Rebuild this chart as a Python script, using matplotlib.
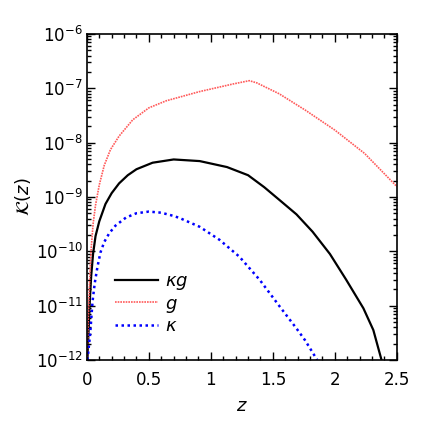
import numpy as np
import matplotlib
matplotlib.use('Agg')
import matplotlib.pyplot as plt
from matplotlib.ticker import MultipleLocator, LogLocator, NullFormatter

# values, log10 K(z)
z_g = [0.003, 0.008, 0.015, 0.025, 0.035, 0.05, 0.07, 0.1, 0.14, 0.19, 0.26, 0.37,
       0.5, 0.64, 0.91, 1.18, 1.31, 1.37, 1.55, 1.76, 2.0, 2.24, 2.5]
log_g = [-12.0, -11.5, -11.0, -10.4, -9.95, -9.5, -9.15, -8.78, -8.42, -8.13, -7.88, -7.58,
         -7.36, -7.23, -7.06, -6.92, -6.86, -6.90, -7.10, -7.40, -7.77, -8.20, -8.81]

z_kg = [0.004, 0.013, 0.024, 0.035, 0.05, 0.07, 0.1, 0.15, 0.2, 0.26, 0.33, 0.4, 0.53,
        0.7, 0.91, 1.13, 1.30, 1.43, 1.55, 1.69, 1.82, 1.96, 2.09, 2.23, 2.31, 2.376]
log_kg = [-12.0, -11.5, -10.9, -10.45, -10.05, -9.72, -9.45, -9.13, -8.93, -8.75, -8.60, -8.49, -8.37,
          -8.31, -8.34, -8.45, -8.60, -8.82, -9.05, -9.32, -9.64, -10.05, -10.52, -11.05, -11.45, -12.0]

z_k = [0.005, 0.013, 0.027, 0.037, 0.046, 0.064, 0.086, 0.11, 0.14, 0.18, 0.23, 0.315,
       0.4, 0.5, 0.6, 0.7, 0.75, 0.91, 1.07, 1.23, 1.395, 1.556, 1.69, 1.76, 1.857]
log_k = [-12.0, -11.82, -11.51, -11.2, -10.92, -10.58, -10.28, -10.02, -9.83, -9.67, -9.53, -9.38,
         -9.30, -9.27, -9.29, -9.35, -9.39, -9.55, -9.79, -10.10, -10.53, -11.02, -11.42, -11.64, -12.0]

plt.rcParams['font.size'] = 12
plt.rcParams['mathtext.fontset'] = 'dejavusans'

fig = plt.figure(figsize=(4.3, 4.3), dpi=100)
ax = fig.add_axes([0.202, 0.163, 0.721, 0.758])

ax.plot(z_kg, 10**np.array(log_kg), color='black', lw=1.6, label=r'$\kappa g$')
ax.plot(z_g, 10**np.array(log_g), color='#ff5a5a', lw=1.2, ls=(0, (1, 0.6)), label=r'$g$')
ax.plot(z_k, 10**np.array(log_k), color='blue', lw=1.8, ls=(0, (1, 1.4)), label=r'$\kappa$')

ax.set_yscale('log')
ax.set_xlim(0, 2.5)
ax.set_ylim(1e-12, 1e-6)
ax.xaxis.set_major_locator(MultipleLocator(0.5))
ax.xaxis.set_minor_locator(MultipleLocator(0.1))
ax.yaxis.set_major_locator(LogLocator(base=10, numticks=20))
ax.yaxis.set_minor_locator(LogLocator(base=10, subs=np.arange(2, 10), numticks=20))
ax.yaxis.set_minor_formatter(NullFormatter())
ax.set_xticks([0, 0.5, 1, 1.5, 2, 2.5])
ax.set_xticklabels(['0', '0.5', '1', '1.5', '2', '2.5'])

ax.tick_params(which='both', direction='in', top=True, right=True, width=1)
ax.tick_params(which='major', length=6, pad=3)
ax.tick_params(which='minor', length=3)
ax.tick_params(axis='x', which='major', pad=8)
for s in ax.spines.values():
    s.set_linewidth(1.2)

ax.set_xlabel(r'$z$', fontsize=13, labelpad=6)
ax.set_ylabel(r'$\mathcal{K}(z)$', fontsize=13, labelpad=2)

ax.legend(loc='upper left', bbox_to_anchor=(0.09, 0.27), frameon=False,
          handlelength=2.4, handletextpad=0.4, labelspacing=0.15,
          borderpad=0, borderaxespad=0, fontsize=13)

fig.savefig('out.png', dpi=100)
